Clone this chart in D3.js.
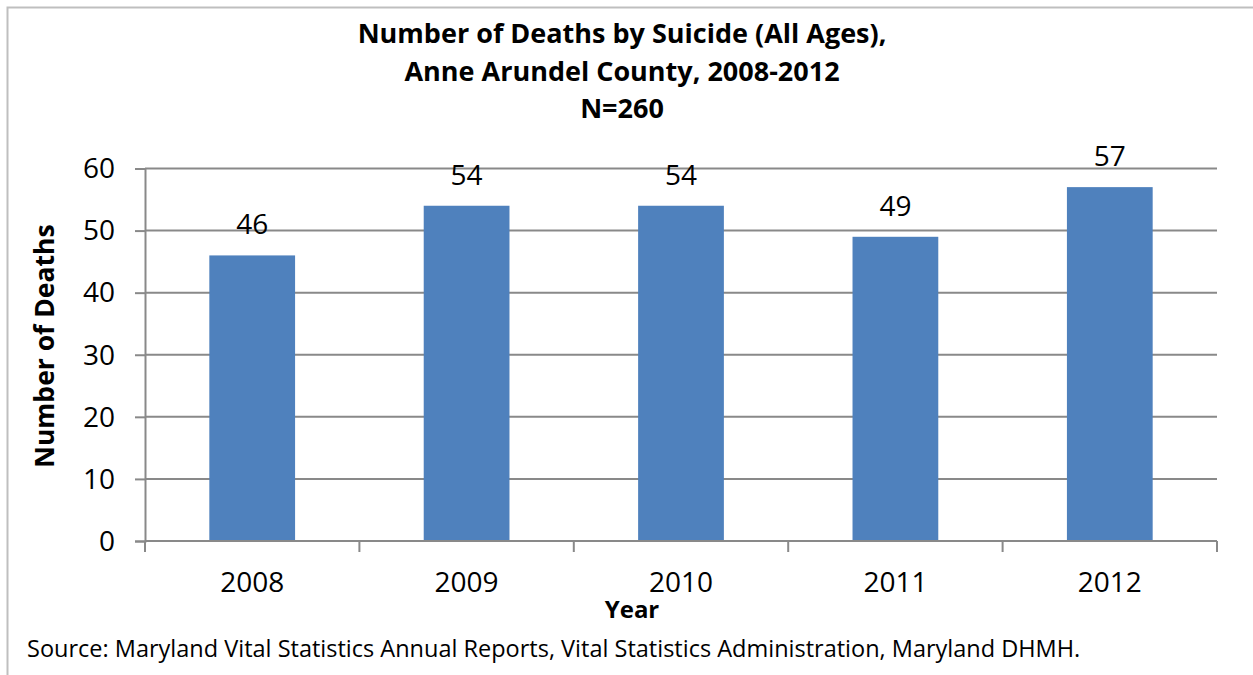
<!DOCTYPE html>
<html>
<head>
<meta charset="utf-8">
<script src="https://cdn.jsdelivr.net/npm/d3@7"></script>
<style>
  html, body { margin: 0; padding: 0; background: #fff; }
  svg { display: block; font-family: "Open Sans", sans-serif; }
</style>
</head>
<body>
<svg id="chart" width="1253" height="675"></svg>
<script>
// Suicide deaths, Anne Arundel County
const years = ["2008", "2009", "2010", "2011", "2012"];
const deaths = [46, 54, 54, 49, 57];
const yTicks = [0, 10, 20, 30, 40, 50, 60];
const titleLines = [
  "Number of Deaths by Suicide (All Ages),",
  "Anne Arundel County, 2008-2012",
  "N=260"
];
const yAxisTitle = "Number of Deaths";
const xAxisTitle = "Year";
const sourceNote = "Source: Maryland Vital Statistics Annual Reports, Vital Statistics Administration, Maryland DHMH.";

const svg = d3.select("#chart");
const W = 1253, H = 675;

// chart frame (open on the right and bottom edges of the page)
svg.append("path")
  .attr("d", `M7.5,${H + 2} V7.5 H${W + 2}`)
  .attr("fill", "none")
  .attr("stroke", "#bfbfbf")
  .attr("stroke-width", 2);

const plot = { left: 145, right: 1217, top: 168.5, bottom: 541 };

const x = d3.scaleBand()
  .domain(years)
  .range([plot.left, plot.right])
  .padding(0);

const y = d3.scaleLinear()
  .domain([0, 60])
  .range([plot.bottom, plot.top]);

const gridColor = "#898989";

// horizontal gridlines
svg.append("g")
  .selectAll("line")
  .data(yTicks.filter(t => t > 0))
  .join("line")
  .attr("x1", plot.left)
  .attr("x2", plot.right)
  .attr("y1", d => y(d))
  .attr("y2", d => y(d))
  .attr("stroke", gridColor)
  .attr("stroke-width", 2);

// bars: 40% of each category slot, centred
const barW = x.bandwidth() * 0.4;
svg.append("g")
  .selectAll("rect")
  .data(years.map((yr, i) => ({ yr, v: deaths[i] })))
  .join("rect")
  .attr("x", d => x(d.yr) + (x.bandwidth() - barW) / 2)
  .attr("y", d => y(d.v))
  .attr("width", barW)
  .attr("height", d => y(0) - y(d.v))
  .attr("fill", "#4f81bd");

// value labels
svg.append("g")
  .selectAll("text")
  .data(years.map((yr, i) => ({ yr, v: deaths[i] })))
  .join("text")
  .attr("x", d => x(d.yr) + x.bandwidth() / 2)
  .attr("y", d => y(d.v) - 21)
  .attr("text-anchor", "middle")
  .attr("font-size", 28)
  .attr("fill", "#000")
  .text(d => d.v);

// y axis
const yAxis = svg.append("g")
  .attr("transform", `translate(${plot.left},0)`)
  .call(d3.axisLeft(y).tickValues(yTicks).tickSize(10).tickPadding(20));
yAxis.select(".domain").attr("stroke", gridColor).attr("stroke-width", 2);
yAxis.selectAll(".tick line").attr("stroke", gridColor).attr("stroke-width", 2);
yAxis.selectAll(".tick text")
  .attr("font-size", 28)
  .attr("font-family", "'Open Sans', sans-serif")
  .attr("fill", "#000")
  .attr("dy", "0.33em");

// x axis: ticks at category boundaries
const xAxis = svg.append("g")
  .attr("transform", `translate(0,${plot.bottom})`);
xAxis.append("line")
  .attr("x1", plot.left).attr("x2", plot.right)
  .attr("stroke", gridColor).attr("stroke-width", 2);
const bounds = years.map(yr => x(yr)).concat([x(years[years.length - 1]) + x.bandwidth()]);
xAxis.selectAll("line.tick")
  .data(bounds)
  .join("line")
  .attr("class", "tick")
  .attr("x1", d => d).attr("x2", d => d)
  .attr("y1", 0).attr("y2", 11)
  .attr("stroke", gridColor).attr("stroke-width", 2);
xAxis.selectAll("text")
  .data(years)
  .join("text")
  .attr("x", d => x(d) + x.bandwidth() / 2)
  .attr("y", 51)
  .attr("text-anchor", "middle")
  .attr("font-size", 28)
  .attr("fill", "#000")
  .text(d => d);

// axis titles
svg.append("text")
  .attr("transform", "translate(54,346) rotate(-90)")
  .attr("text-anchor", "middle")
  .attr("font-size", 26.5)
  .attr("font-weight", "bold")
  .text(yAxisTitle);

svg.append("text")
  .attr("x", 632)
  .attr("y", 618)
  .attr("text-anchor", "middle")
  .attr("font-size", 24)
  .attr("font-weight", "bold")
  .text(xAxisTitle);

// title
svg.append("g")
  .selectAll("text")
  .data(titleLines)
  .join("text")
  .attr("x", 622)
  .attr("y", (d, i) => 43 + i * 37.7)
  .attr("text-anchor", "middle")
  .attr("font-size", 27)
  .attr("font-weight", "bold")
  .text(d => d);

// source note
svg.append("text")
  .attr("x", 27)
  .attr("y", 657)
  .attr("font-size", 23.5)
  .text(sourceNote);
</script>
</body>
</html>
